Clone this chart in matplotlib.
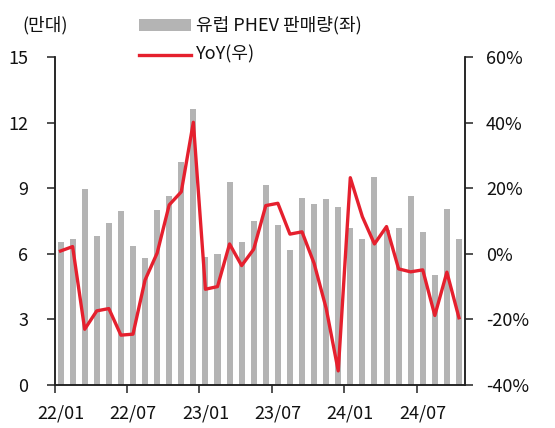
import matplotlib
matplotlib.use("Agg")
import matplotlib.pyplot as plt
import numpy as np

plt.rcParams['font.family'] = ['Noto Sans CJK KR', 'DejaVu Sans']

months = ["22/01","22/02","22/03","22/04","22/05","22/06","22/07","22/08","22/09","22/10","22/11","22/12",
          "23/01","23/02","23/03","23/04","23/05","23/06","23/07","23/08","23/09","23/10","23/11","23/12",
          "24/01","24/02","24/03","24/04","24/05","24/06","24/07","24/08","24/09","24/10"]
sales = [6.55, 6.66, 8.98, 6.8, 7.39, 7.97, 6.36, 5.82, 8.0, 8.63, 10.18, 12.6,
         5.85, 6.0, 9.27, 6.54, 7.5, 9.14, 7.32, 6.17, 8.55, 8.29, 8.49, 8.14,
         7.19, 6.69, 9.5, 7.1, 7.16, 8.63, 6.98, 5.03, 8.06, 6.69]
yoy = [0.85, 2.2, -23.0, -17.4, -16.7, -24.8, -24.5, -8.0, 0.2, 14.9, 18.9, 40.1,
       -10.8, -10.0, 3.0, -3.6, 1.4, 14.7, 15.4, 6.0, 6.7, -2.9, -16.6, -35.7,
       23.2, 11.3, 3.0, 8.3, -4.6, -5.5, -4.9, -18.8, -5.6, -19.5]
xlabels = ["22/01", "22/07", "23/01", "23/07", "24/01", "24/07"]
left_ticks = [0, 3, 6, 9, 12, 15]
right_ticks = [-40, -20, 0, 20, 40, 60]

bar_color = '#b4b4b4'
line_color = '#e5202e'
axis_color = '#222222'
fs = 13

fig = plt.figure(figsize=(5.55, 4.28), dpi=100)
ax = fig.add_axes([54.5/555, 1-385/428, (465-54.5)/555, (385-57)/428])
ax2 = ax.twinx()

x = np.arange(len(months))
bars = ax.bar(x, sales, width=0.5, color=bar_color, zorder=2)
ln, = ax2.plot(x, yoy, color=line_color, lw=2.4, zorder=3)

ax.set_xlim(-0.5, len(months) - 0.5)
ax.set_ylim(0, 15)
ax2.set_ylim(-40, 60)
ax.set_yticks(left_ticks)
ax.set_yticklabels([str(v) for v in left_ticks])
ax2.set_yticks(right_ticks)
ax2.set_yticklabels([f"{v}%" for v in right_ticks])

label_pos = [months.index(m) for m in xlabels]
ax.set_xticks([p - 0.5 for p in label_pos])
ax.set_xticklabels([])
ax.set_xticks(label_pos, minor=True)
ax.set_xticklabels(xlabels, minor=True)
ax.tick_params(axis='x', which='major', length=6, width=1.1, color=axis_color, direction='out')
ax.tick_params(axis='x', which='minor', length=0, pad=14, labelsize=fs, labelcolor='#111111')
ax.tick_params(axis='y', length=6, width=1.1, color=axis_color, pad=13, labelsize=fs, labelcolor='#111111')
ax2.tick_params(axis='y', length=6, width=1.1, color=axis_color, pad=9, labelsize=fs, labelcolor='#111111')

for a in (ax, ax2):
    a.spines['top'].set_visible(False)
    for s in ('left', 'right', 'bottom'):
        a.spines[s].set_color(axis_color)
        a.spines[s].set_linewidth(1.1)

fig.text(22/555, 1-25/428, "(만대)", fontsize=fs, ha='left', va='center', color='#111111')

# legend
from matplotlib.patches import Rectangle
from matplotlib.lines import Line2D
fig.patches.append(Rectangle((139/555, 1-31/428), 52/555, 12/428, transform=fig.transFigure,
                             facecolor=bar_color, edgecolor='none'))
fig.text(196/555, 1-25/428, "유럽 PHEV 판매량(좌)", fontsize=fs, ha='left', va='center', color='#111111')
fig.lines.append(Line2D([139/555, 191/555], [1-55/428, 1-55/428], transform=fig.transFigure,
                        color=line_color, lw=2.4))
fig.text(196/555, 1-54/428, "YoY(우)", fontsize=fs, ha='left', va='center', color='#111111')

fig.savefig("out.png", dpi=100)
